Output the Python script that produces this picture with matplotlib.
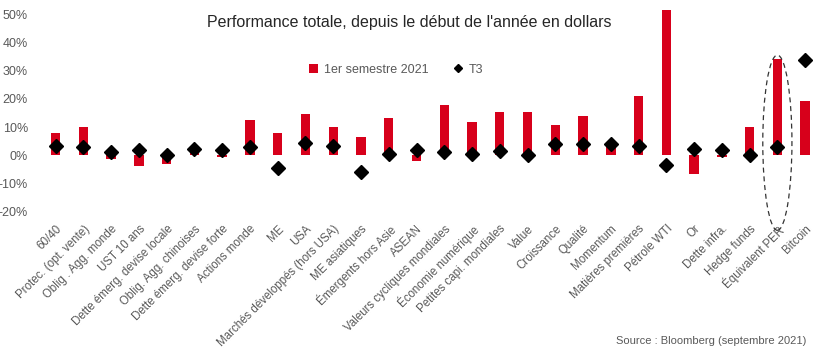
import matplotlib
matplotlib.use("Agg")
import matplotlib.pyplot as plt
from matplotlib.patches import Ellipse

plt.rcParams['font.family'] = ['Liberation Sans', 'DejaVu Sans']

categories = ["60/40", "Protec. (opt. vente)", "Oblig . Agg. monde", "UST 10 ans",
              "Dette émerg. devise locale", "Oblig. Agg. chinoises", "Dette émerg. devise forte",
              "Actions monde", "ME", "USA", "Marchés développés (hors USA)", "ME asiatiques",
              "Émergents hors Asie", "ASEAN", "Valeurs cycliques mondiales", "Économie numérique",
              "Petites capi. mondiales", "Value", "Croissance", "Qualité", "Momentum",
              "Matières premières", "Pétrole WTI", "Or", "Dette infra.", "Hedge funds",
              "Équivalent PER", "Bitcoin"]

# performance in %
h1_2021 = [8.1, 10.2, -1.4, -3.8, -3.1, 3.4, -0.6, 12.7, 7.8, 14.8, 10.2, 6.4,
           13.4, -1.8, 18.0, 11.7, 15.5, 15.2, 10.6, 13.8, 4.6, 21.2, 51.6, -6.6,
           -0.6, 10.2, 34.3, 19.4]
t3 = [3.2, 2.9, 1.2, 1.9, 0.0, 2.1, 1.9, 2.9, -4.5, 4.4, 3.5, -6.0,
      0.4, 1.8, 1.1, 0.4, 1.4, 0.0, 4.2, 4.2, 3.9, 3.5, -3.4, 2.1,
      1.8, 0.0, 2.9, 33.9]

yticks = [-20, -10, 0, 10, 20, 30, 40, 50]

red = '#d7001b'
gray = '#595959'

fig = plt.figure(figsize=(8.19, 3.55), dpi=100)
ax = fig.add_axes([0.051, 0.403, 0.949, 0.573])

x = list(range(len(categories)))
bars = ax.bar(x, h1_2021, width=0.34, color=red, label='1er semestre 2021', zorder=2)
pts, = ax.plot(x, t3, linestyle='none', marker='D', markersize=6.8, color='black',
               label='T3', zorder=3)

# dashed ellipse highlighting "Équivalent PER"
idx = categories.index("Équivalent PER")
ax.add_patch(Ellipse((idx, 4.5), 1.05, 62, fill=False, linestyle=(0, (4, 3)),
                     linewidth=0.9, edgecolor='#333333', clip_on=False, zorder=4))

ax.set_xlim(-0.5, len(categories) - 0.5)
ax.set_ylim(-20, 52)
ax.set_yticks(yticks)
ax.set_yticklabels([f"{v}%" for v in yticks])
ax.set_xticks(x)
ax.set_xticklabels(categories, rotation=45, ha='right', rotation_mode='anchor')
ax.tick_params(axis='y', length=0, pad=10, labelsize=9, labelcolor=gray)
ax.tick_params(axis='x', length=0, pad=8, labelsize=8.3, labelcolor=gray)
for s in ax.spines.values():
    s.set_visible(False)

fig.text(0.5, 0.937, "Performance totale, depuis le début de l'année en dollars",
         ha='center', va='center', fontsize=11.5, color='#262626')

ax.legend([bars, pts], ['1er semestre 2021', 'T3'], loc='center',
          bbox_to_anchor=(0.456, 0.70), ncol=2, frameon=False,
          fontsize=9, labelcolor=gray, handlelength=0.7, handletextpad=0.5,
          columnspacing=2.0, markerscale=0.55)

fig.text(0.984, 0.04, "Source : Bloomberg (septembre 2021)", ha='right', va='center',
         fontsize=8, color=gray)

fig.savefig("out.png", dpi=100)
